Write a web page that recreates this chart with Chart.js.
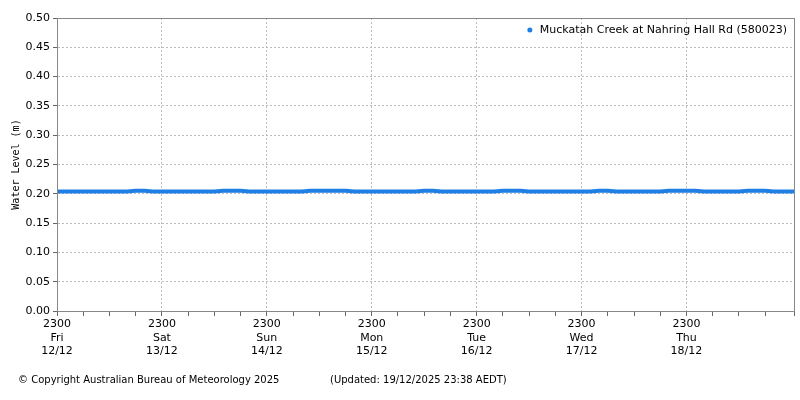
<!DOCTYPE html>
<html><head><meta charset="utf-8">
<script src="https://cdn.jsdelivr.net/npm/chart.js@4"></script>
<style>html,body{margin:0;background:#fff}#w{width:800px;height:400px}</style>
</head><body><div id="w"><canvas id="c"></canvas></div>
<script>
const seriesName = 'Muckatah Creek at Nahring Hall Rd (580023)';
const dayLabels = [['2300','Fri','12/12'],['2300','Sat','13/12'],['2300','Sun','14/12'],['2300','Mon','15/12'],['2300','Tue','16/12'],['2300','Wed','17/12'],['2300','Thu','18/12']];
const hoursFromStart = [0,2,4,6,8,10,12,14,16,18,20,22,24,26,28,30,32,34,36,38,40,42,44,46,48,50,52,54,56,58,60,62,64,66,68,70,72,74,76,78,80,82,84,86,88,90,92,94,96,98,100,102,104,106,108,110,112,114,116,118,120,122,124,126,128,130,132,134,136,138,140,142,144,146,148,150,152,154,156,158,160,162,164,166,168.6];
const waterLevel = [0.204,0.204,0.204,0.204,0.204,0.204,0.204,0.204,0.204,0.205,0.205,0.204,0.204,0.204,0.204,0.204,0.204,0.204,0.204,0.205,0.205,0.205,0.204,0.204,0.204,0.204,0.204,0.204,0.204,0.205,0.205,0.205,0.205,0.205,0.204,0.204,0.204,0.204,0.204,0.204,0.204,0.204,0.205,0.205,0.204,0.204,0.204,0.204,0.204,0.204,0.204,0.205,0.205,0.205,0.204,0.204,0.204,0.204,0.204,0.204,0.204,0.204,0.205,0.205,0.204,0.204,0.204,0.204,0.204,0.204,0.205,0.205,0.205,0.205,0.204,0.204,0.204,0.204,0.204,0.205,0.205,0.205,0.204,0.204,0.204];
const pts = hoursFromStart.map((h,i)=>({x:h,y:waterLevel[i]}));
const F = "'DejaVu Sans', Verdana, sans-serif";
const frame = {id:'frame', afterDraw(ch){const a=ch.chartArea,c=ch.ctx;c.save();c.strokeStyle='#888';c.lineWidth=1;c.strokeRect(a.left+0.5,a.top+0.5,a.right-a.left,a.bottom-a.top);
 c.fillStyle='#000';c.font='10px '+F;c.textBaseline='middle';c.fillText('© Copyright Australian Bureau of Meteorology 2025',18,380);c.fillText('(Updated: 19/12/2025 23:38 AEDT)',330,380);
 c.font='11px '+F;c.textAlign='right';c.fillText(ch.data.datasets[0].label,a.right-7,30);const w=c.measureText(ch.data.datasets[0].label).width;
 c.fillStyle='#1f7fe5';c.beginPath();c.arc(a.right-7-w-10,30,2.5,0,7);c.fill();c.restore();}};
new Chart(document.getElementById('c'),{type:'line',data:{datasets:[{label:seriesName,data:pts,borderColor:'#1f7fe5',backgroundColor:'#1f7fe5',borderWidth:4,pointRadius:0,tension:0}]},
options:{responsive:true,maintainAspectRatio:false,animation:false,
layout:{padding:{top:18,right:6,bottom:26,left:10}},
plugins:{tooltip:{enabled:false},legend:{display:false}},
scales:{x:{type:'linear',min:0,max:168.6,afterFit(s){s.height=63;},
 ticks:{stepSize:6,autoSkip:false,maxRotation:0,color:'#000',font:{family:F,size:11},padding:2,callback(v){return v%24===0&&v/24<7?dayLabels[v/24]:'';}},
 grid:{color(c){return c.tick&&c.tick.value%24===0?'#bbb':'rgba(0,0,0,0)';},tickColor:'#666',tickLength:5,drawTicks:true},border:{dash:[2,2],color:'#888'}},
y:{min:0,max:0.5,afterFit(s){s.width=47;},ticks:{stepSize:0.05,color:'#000',font:{family:F,size:11},callback:v=>v.toFixed(2)},
 title:{display:true,text:'Water Level (m)',font:{family:"'DejaVu Sans Mono', monospace",size:10},color:'#000',padding:0},
 grid:{color:'#bbb',tickColor:'#666',tickLength:4},border:{dash:[2,2],color:'#888'}}}},plugins:[frame]});
</script></body></html>
